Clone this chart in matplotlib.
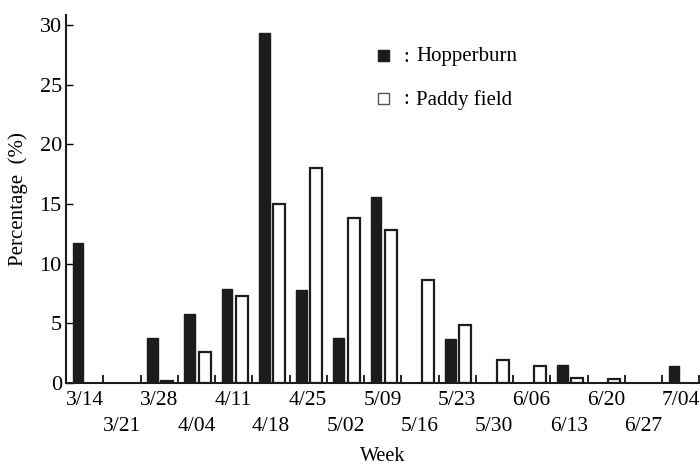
import matplotlib
matplotlib.use("Agg")
import matplotlib.pyplot as plt
from matplotlib.patches import Rectangle
import numpy as np

plt.rcParams["font.family"] = ["Liberation Serif", "DejaVu Serif"]

weeks = ["3/14", "3/21", "3/28", "4/04", "4/11", "4/18", "4/25", "5/02", "5/09",
         "5/16", "5/23", "5/30", "6/06", "6/13", "6/20", "6/27", "7/04"]
hopperburn = [11.7, 0, 3.8, 5.8, 7.9, 29.3, 7.8, 3.8, 15.6,
              0, 3.7, 0, 0, 1.5, 0, 0, 1.4]
paddy_field = [0, 0, 0.2, 2.6, 7.3, 15.0, 18.0, 13.8, 12.8,
               8.6, 4.9, 1.9, 1.4, 0.4, 0.3, 0, 0]

W, H = 700, 466
fig = plt.figure(figsize=(W / 100, H / 100), dpi=100)
ax = fig.add_axes([66 / W, 1 - 383 / H, 1 - 66 / W, (383 - 15) / H])

x = np.arange(len(weeks))
ax.bar(x - 0.18, hopperburn, width=0.29, color="#1c1c1c", edgecolor="#1c1c1c", lw=1)
pf = np.array(paddy_field)
m = pf > 0
ax.bar(x[m] + 0.22, pf[m], width=0.32, facecolor="white", edgecolor="#1c1c1c", lw=1.6)

ax.set_xlim(-0.5, -0.5 + (W - 66) / 37.25)
ax.set_ylim(0, (383 - 15) / 11.93)

for s in ("top", "right"):
    ax.spines[s].set_visible(False)
for s in ("left", "bottom"):
    ax.spines[s].set_linewidth(1.5)
    ax.spines[s].set_color("#1c1c1c")

ax.set_yticks(range(0, 31, 5))
ax.tick_params(axis="y", direction="in", length=5, width=1, pad=3, labelsize=16)

ax.set_xticks(x)
labels = ax.set_xticklabels([w if i % 2 == 0 else "\n" + w for i, w in enumerate(weeks)])
for t in labels:
    t.set_linespacing(1.45)
ax.tick_params(axis="x", length=0, pad=6, labelsize=15.5)
ax.set_xticks(x + 0.5, minor=True)
ax.tick_params(axis="x", which="minor", direction="in", length=6, width=1.2)

ax.set_xlabel("Week", fontsize=14.5, labelpad=8)
ax.set_ylabel("Percentage  (%)", fontsize=15, labelpad=8)

# legend
sq = 11
fig.add_artist(Rectangle((378 / W, 1 - 61 / H), sq / W, sq / H,
                         transform=fig.transFigure, facecolor="#1c1c1c", edgecolor="#1c1c1c"))
fig.add_artist(Rectangle((378 / W, 1 - 104 / H), sq / W, sq / H,
                         transform=fig.transFigure, facecolor="white", edgecolor="#555555", lw=1))
fig.text(403 / W, 1 - 57 / H, ":", fontsize=15, va="center")
fig.text(416 / W, 1 - 57 / H, "Hopperburn", fontsize=15, va="center")
fig.text(403 / W, 1 - 100 / H, ":", fontsize=15, va="center")
fig.text(416 / W, 1 - 100 / H, "Paddy field", fontsize=15, va="center")

fig.savefig("out.png", dpi=100)
